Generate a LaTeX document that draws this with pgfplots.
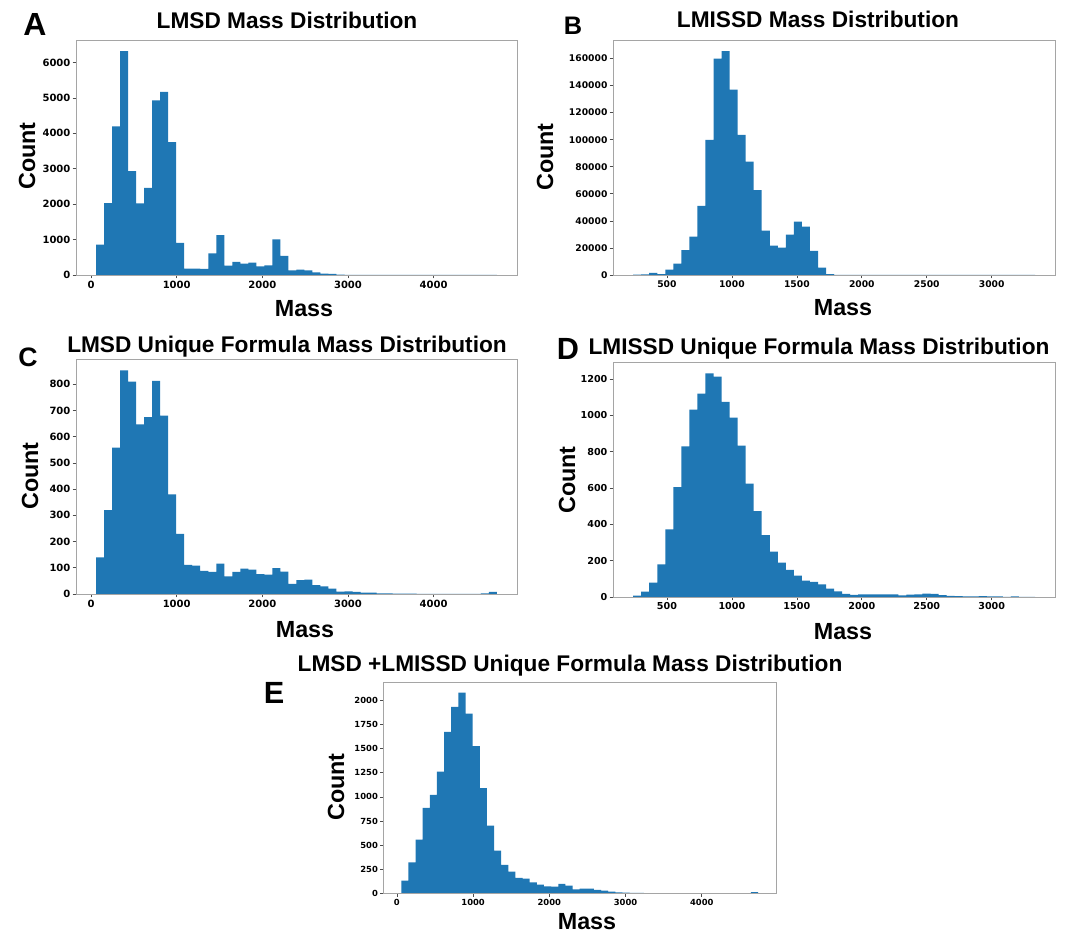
\documentclass[border=0pt]{standalone}
\usepackage{pgfplots}
\pgfplotsset{compat=1.18}
\usepackage{pgfplotstable}
\usepackage{fontspec}
\setmainfont{Liberation Sans}
\newfontfamily\dvs{DejaVu Sans}
\definecolor{barblue}{HTML}{1F77B4}
\definecolor{framegray}{RGB}{165,165,165}

\pgfplotstableread{
edge A C E
58 858 140 131
151.6 2028 320 321
245.2 4198 558 557
338.8 6320 853 886
432.4 2934 810 1020
526 2019 647 1263
619.6 2462 674 1675
713.2 4934 813 1934
806.8 5170 680 2080
900.4 3755 380 1862
994 906 229 1526
1087.6 179 111 1090
1181.2 179 108 702
1274.8 170 88 443
1368.4 613 84 294
1462 1123 116 225
1555.6 264 67 159
1649.2 368 84 152
1742.8 321 97 114
1836.4 349 93 90
1930 245 76 73
2023.6 274 74 69
2117.2 1009 99 97
2210.8 538 85 80
2304.4 132 39 42
2398 151 53 48
2491.6 132 55 48
2585.2 75 34 35
2678.8 38 29 28
2772.4 28 20 17
2866 10 9 10
2959.6 5 10 7
3053.2 5 8 5
3146.8 3 5 4
3240.4 2 5 3
3334 1 2 2
3427.6 1 2 1
3521.2 0 1 1
3614.8 0 1 1
3708.4 0 1 1
3802 0 0 0
3895.6 0 0 0
3989.2 0 0 0
4082.8 0 0 0
4176.4 0 0 0
4270 0 0 0
4363.6 0 0 0
4457.2 0 0 0
4550.8 0 2 2
4644.4 2 8 12
4738 2 8 12
}\tabACE

\pgfplotstableread{
edge B D
240 200 7
301.9 500 29
363.7 1500 79
425.6 700 180
487.4 4000 372
549.3 8400 605
611.2 18300 829
673.0 28400 1031
734.9 51100 1119
796.7 99800 1231
858.6 160000 1213
920.5 165400 1073
982.3 137000 987
1044.2 103500 833
1106.0 83700 624
1167.9 62700 472
1229.8 32800 341
1291.6 21700 250
1353.5 20200 189
1415.3 29900 149
1477.2 39500 117
1539.1 35800 90
1600.9 17800 83
1662.8 5400 70
1724.6 700 46
1786.5 50 31
1848.4 20 17
1910.2 10 11
1972.1 10 15
2033.9 10 15
2095.8 10 15
2157.7 10 14
2219.5 10 14
2281.4 10 9
2343.2 10 13
2405.1 10 15
2467.0 10 18
2528.8 10 17
2590.7 10 10
2652.5 5 6
2714.4 5 5
2776.3 5 3
2838.1 5 4
2900.0 5 5
2961.8 5 4
3023.7 5 3
3085.6 5 1
3147.4 5 3
3209.3 5 1
3271.1 5 1
3333 5 1
}\tabBD

\pgfplotsset{
  histax/.style={
    scale only axis,
    anchor=south west,
    axis on top,
    ymin=0,
    axis line style={framegray, line width=0.6pt},
    tick align=outside,
    major tick length=2.5pt,
    tick style={black!70, line width=0.5pt},
    xtick pos=bottom, ytick pos=left,
    minor tick num=0,
    ticklabel style={font=\dvs\fontsize{7.5}{9}\selectfont\bfseries, text=black},
    scaled y ticks=false, scaled x ticks=false,
    xticklabel style={inner sep=1.5pt},
    yticklabel style={inner sep=1.5pt},
  },
  histbar/.style={ybar interval, fill=barblue, draw=none},
}

\newcommand{\ttl}{\fontsize{17}{20}\selectfont\bfseries}
\newcommand{\lbl}{\fontsize{17.5}{20}\selectfont\bfseries}

\begin{document}
\begin{tikzpicture}
\useasboundingbox (0pt,0pt) rectangle (816.75pt,700.5pt);

% A
\begin{axis}[histax, at={(57pt,494.25pt)}, width=330.75pt, height=176.25pt,
  xmin=-176, xmax=4974, ymax=6636,
  xtick={0,1000,2000,3000,4000}, xticklabels={0,1000,2000,3000,4000},
  ytick={0,1000,2000,3000,4000,5000,6000}, yticklabels={0,1000,2000,3000,4000,5000,6000}]
\addplot[histbar] table[x=edge,y=A] {\tabACE};
\end{axis}

% B
\begin{axis}[histax, at={(459.75pt,494.25pt)}, width=331.5pt, height=176.25pt,
  ticklabel style={font=\dvs\fontsize{6.9}{8}\selectfont\bfseries},
  xmin=85, xmax=3487, ymax=173700,
  xtick={500,1000,1500,2000,2500,3000}, xticklabels={500,1000,1500,2000,2500,3000},
  ytick={0,20000,40000,60000,80000,100000,120000,140000,160000},
  yticklabels={0,20000,40000,60000,80000,100000,120000,140000,160000}]
\addplot[histbar] table[x=edge,y=B] {\tabBD};
\end{axis}

% C
\begin{axis}[histax, at={(57pt,255pt)}, width=330.75pt, height=176.25pt,
  xmin=-176, xmax=4974, ymax=896,
  xtick={0,1000,2000,3000,4000}, xticklabels={0,1000,2000,3000,4000},
  ytick={0,100,200,300,400,500,600,700,800}, yticklabels={0,100,200,300,400,500,600,700,800}]
\addplot[histbar] table[x=edge,y=C] {\tabACE};
\end{axis}

% D
\begin{axis}[histax, at={(459.75pt,252.75pt)}, width=331.5pt, height=176.25pt,
  ticklabel style={font=\dvs\fontsize{7.2}{8}\selectfont\bfseries},
  xmin=85, xmax=3487, ymax=1293,
  xtick={500,1000,1500,2000,2500,3000}, xticklabels={500,1000,1500,2000,2500,3000},
  ytick={0,200,400,600,800,1000,1200}, yticklabels={0,200,400,600,800,1000,1200}]
\addplot[histbar] table[x=edge,y=D] {\tabBD};
\end{axis}

% E
\begin{axis}[histax, at={(287.6pt,30.5pt)}, width=294.4pt, height=158pt,
  ticklabel style={font=\dvs\fontsize{6.3}{7}\selectfont\bfseries},
  xmin=-176, xmax=4974, ymax=2184,
  xtick={0,1000,2000,3000,4000}, xticklabels={0,1000,2000,3000,4000},
  ytick={0,250,500,750,1000,1250,1500,1750,2000}, yticklabels={0,250,500,750,1000,1250,1500,1750,2000}]
\addplot[histbar] table[x=edge,y=E] {\tabACE};
\end{axis}

% panel letters
\node[font=\fontsize{24}{26}\selectfont\bfseries] at (26.25pt,681.75pt) {A};
\node[font=\fontsize{19}{22}\selectfont\bfseries] at (429.75pt,681pt) {B};
\node[font=\fontsize{20}{22}\selectfont\bfseries] at (21pt,432.75pt) {C};
\node[font=\fontsize{23}{26}\selectfont\bfseries] at (426pt,438.75pt) {D};
\node[font=\fontsize{23}{26}\selectfont\bfseries] at (205.5pt,180.75pt) {E};

% titles
\node[font=\ttl, anchor=base, inner sep=0pt] at (215.25pt,678.75pt) {LMSD Mass Distribution};
\node[font=\ttl, anchor=base, inner sep=0pt] at (613.5pt,679.5pt) {LMISSD Mass Distribution};
\node[font=\ttl, anchor=base, inner sep=0pt] at (215.25pt,435.75pt) {LMSD Unique Formula Mass Distribution};
\node[font=\ttl, anchor=base, inner sep=0pt] at (614.25pt,434.25pt) {LMISSD Unique Formula Mass Distribution};
\node[font=\ttl, anchor=base, inner sep=0pt] at (427.5pt,196.5pt) {LMSD +LMISSD Unique Formula Mass Distribution};

% x labels
\node[font=\lbl, inner sep=0pt] at (228pt,468.75pt) {Mass};
\node[font=\lbl, inner sep=0pt] at (632.25pt,469.5pt) {Mass};
\node[font=\lbl, inner sep=0pt] at (228.75pt,228pt) {Mass};
\node[font=\lbl, inner sep=0pt] at (632.25pt,226.5pt) {Mass};
\node[font=\lbl, inner sep=0pt] at (440.25pt,9pt) {Mass};

% y labels
\node[font=\lbl, inner sep=0pt, rotate=90] at (20.25pt,583.5pt) {Count};
\node[font=\lbl, inner sep=0pt, rotate=90] at (408.75pt,582.75pt) {Count};
\node[font=\lbl, inner sep=0pt, rotate=90] at (22.5pt,343.5pt) {Count};
\node[font=\lbl, inner sep=0pt, rotate=90] at (425.25pt,340.5pt) {Count};
\node[font=\lbl, inner sep=0pt, rotate=90] at (252pt,110.25pt) {Count};
\end{tikzpicture}
\end{document}
